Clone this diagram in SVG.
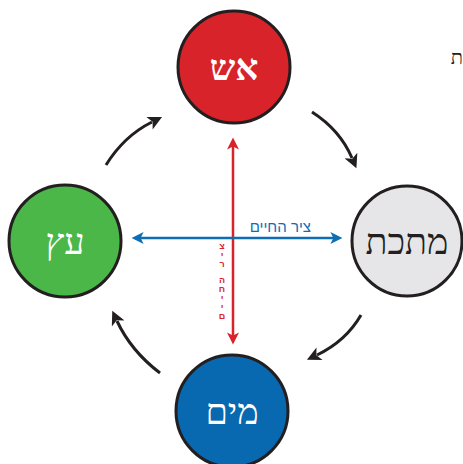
<svg xmlns="http://www.w3.org/2000/svg" width="463" height="464" viewBox="0 0 463 464">
<defs>
<style>
.node{stroke:#231f20;stroke-width:3}
.lbl{font-family:"Liberation Serif","DejaVu Serif","Noto Sans",serif;font-size:36px;text-anchor:middle}
.cyc{fill:none;stroke:#231f20;stroke-width:3}
</style>
<marker id="ak" viewBox="0 0 10 10" refX="2" refY="5" markerWidth="16" markerHeight="14" markerUnits="userSpaceOnUse" orient="auto"><path d="M0,0 L10,5 L0,10 L2.5,5 Z" fill="#231f20"/></marker>
<marker id="ar" viewBox="0 0 10 10" refX="3" refY="5" markerWidth="14" markerHeight="12" markerUnits="userSpaceOnUse" orient="auto-start-reverse"><path d="M0,0 L10,5 L0,10 L2.5,5 Z" fill="#d9232a"/></marker>
<marker id="ab" viewBox="0 0 10 10" refX="3" refY="5" markerWidth="14" markerHeight="12" markerUnits="userSpaceOnUse" orient="auto-start-reverse"><path d="M0,0 L10,5 L0,10 L2.5,5 Z" fill="#0e6db3"/></marker>
</defs>
<rect width="463" height="464" fill="#ffffff"/>
<text x="463" y="64" font-family="Liberation Serif, DejaVu Serif, serif" font-size="20" fill="#231f20" text-anchor="end">ת</text>
<g id="connectors">
<path class="cyc" d="M106,165 Q124,136 152,122" marker-end="url(#ak)"/>
<path class="cyc" d="M312,112 Q340,130 352,158" marker-end="url(#ak)"/>
<path class="cyc" d="M361,315 Q346,341 317,355" marker-end="url(#ak)"/>
<path class="cyc" d="M160,373 Q131,351 117,321" marker-end="url(#ak)"/>
<line x1="233" y1="146" x2="233" y2="336" stroke="#d9232a" stroke-width="2.5" marker-start="url(#ar)" marker-end="url(#ar)"/>
<line x1="140" y1="238" x2="334" y2="238" stroke="#0e6db3" stroke-width="2.5" marker-start="url(#ab)" marker-end="url(#ab)"/>
<text x="311" y="232" font-family="Liberation Sans, Noto Sans, sans-serif" font-size="15" fill="#0e6db3" text-anchor="end">ציר החיים</text>
<text font-family="Liberation Sans, Noto Sans, sans-serif" font-size="9" font-weight="bold" fill="#d9232a" text-anchor="middle"><tspan x="222" y="249">צ</tspan><tspan x="222" y="258">י</tspan><tspan x="222" y="267">ר</tspan><tspan x="222" y="283">ה</tspan><tspan x="222" y="292">ח</tspan><tspan x="222" y="301">י</tspan><tspan x="222" y="310">י</tspan><tspan x="222" y="319">ם</tspan></text>
</g>
<g id="fire"><circle class="node" cx="234" cy="67" r="56" fill="#d9232a"/><text class="lbl" x="234" y="80" fill="#ffffff" font-weight="bold">אש</text></g>
<g id="metal"><circle class="node" cx="407" cy="241" r="55" fill="#e6e6e8"/><text class="lbl" x="407" y="254" fill="#231f20">מתכת</text></g>
<g id="wood"><circle class="node" cx="65" cy="241" r="56" fill="#4bb748"/><text class="lbl" x="65" y="254" fill="#ffffff">עץ</text></g>
<g id="water"><circle class="node" cx="232" cy="411" r="56" fill="#0868b0"/><text class="lbl" x="232" y="424" fill="#ffffff">מים</text></g>
</svg>
